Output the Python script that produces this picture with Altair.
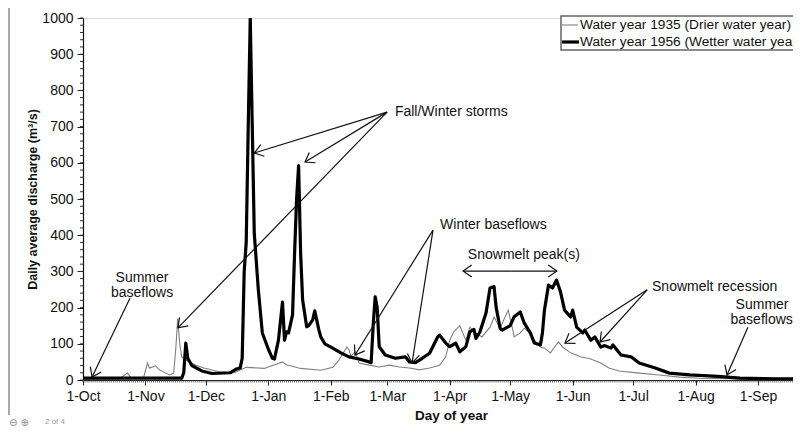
import math
import altair as alt
import pandas as pd

# ---------------- data ----------------
month_days = [0, 31, 61, 92, 123, 151, 182, 212, 243, 273, 304, 335]
month_labels = ["1-Oct", "1-Nov", "1-Dec", "1-Jan", "1-Feb", "1-Mar",
                "1-Apr", "1-May", "1-Jun", "1-Jul", "1-Aug", "1-Sep"]
y_major = [0, 100, 200, 300, 400, 500, 600, 700, 800, 900, 1000]

# Water year 1935 (drier) - day of water year / discharge m3/s
wy1935_day = [0, 18, 22, 24, 30, 32, 33, 36, 38, 41, 43, 45, 46, 47, 48, 49, 51, 56, 60, 68,
              75, 81, 90, 99, 101, 108, 118, 124, 127, 131, 132, 133, 135, 137, 142, 147, 152,
              157, 162, 167, 172, 177, 180, 182, 184, 187, 190, 192, 195, 198, 202, 204, 207,
              211, 213, 214, 217, 219, 222, 224, 227, 229, 232, 234, 236, 238, 242, 247, 252,
              257, 261, 266, 276, 286, 296, 306, 330, 364]
wy1935_q = [3, 3, 19, 5, 5, 47, 33, 39, 28, 19, 14, 19, 83, 170, 100, 64, 55, 41, 33, 22,
            20, 35, 32, 50, 42, 32, 27, 35, 55, 91, 83, 66, 78, 47, 41, 36, 41,
            36, 33, 28, 33, 41, 64, 110, 133, 150, 110, 146, 130, 119, 146, 174, 143,
            193, 146, 119, 130, 143, 130, 110, 91, 88, 75, 91, 105, 91, 75, 64, 58,
            47, 33, 25, 19, 14, 8, 5, 3, 3]

# Water year 1956 (wetter)
wy1956_day = [0, 33, 49, 50, 51, 52, 54, 59, 64, 73, 76, 78, 79, 80, 81, 82, 83, 84, 85, 87,
              89, 92, 94, 95, 97, 99, 100, 101, 102, 104, 105, 106, 107, 108, 109, 111, 112,
              114, 115, 117, 118, 120, 123, 128, 132, 137, 142, 143, 144, 145, 146, 147, 150,
              155, 160, 162, 165, 167, 172, 176, 177, 180, 182, 185, 187, 190, 192, 194, 195,
              197, 200, 202, 204, 205, 207, 208, 212, 214, 217, 219, 222, 224, 227, 228, 229,
              231, 233, 235, 237, 239, 242, 243, 245, 248, 249, 252, 254, 257, 259, 262, 263,
              267, 272, 276, 284, 291, 301, 315, 326, 345, 364]
wy1956_q = [5, 5, 5, 20, 102, 60, 40, 25, 18, 20, 30, 33, 60, 300, 380, 700, 1000, 700, 406, 250,
            130, 85, 60, 58, 110, 215, 110, 133, 130, 180, 350, 500, 592, 350, 221, 147, 150,
            166, 191, 140, 119, 100, 91, 75, 64, 58, 50, 48, 150, 230, 200, 92, 69,
            60, 64, 50, 48, 55, 74, 119, 124, 102, 92, 102, 78, 92, 133, 140, 115,
            133, 185, 254, 258, 202, 143, 138, 150, 175, 188, 157, 130, 102, 97, 130, 193,
            262, 254, 276, 243, 193, 174, 193, 146, 130, 138, 110, 119, 91, 95, 88, 97,
            69, 64, 47, 33, 19, 14, 10, 5, 3, 3]

legend_labels = ["Water year 1935 (Drier water year)", "Water year 1956 (Wetter water year)"]

# annotation texts and anchors (day, discharge)
note_text = ["Summer", "baseflows", "Fall/Winter storms", "Winter baseflows",
             "Snowmelt peak(s)", "Snowmelt recession", "Summer", "baseflows"]
note_day = [29.3, 29.3, 154.8, 177.2, 191.0, 282.4, 337.0, 336.8]
note_q = [282, 240, 740, 428, 345, 257, 207, 166]
note_align = ["center", "center", "left", "left", "left", "left", "center", "center"]

# arrows: start (day, q) -> tip (day, q)
arrow_day0 = [23.3, 150.9, 150.9, 150.9, 173.7, 173.7, 212.0, 212.0, 280.0, 280.0, 330.0]
arrow_q0 = [226, 740, 740, 740, 414, 414, 301, 301, 249, 249, 146]
arrow_day1 = [4.5, 85.0, 110.2, 47.1, 135.0, 163.3, 188.6, 235.2, 239.2, 256.6, 319.6]
arrow_q1 = [8, 627, 602, 144, 69, 47, 301, 301, 102, 105, 14]

# ---------------- layout ----------------
PX_PER_DAY = 2.015
PLOT_W = 710
X_MAX = PLOT_W / PX_PER_DAY
Y_MAX = 1000
PLOT_H = 362
FONT = "Liberation Sans"

px_day = PLOT_W / X_MAX
px_q = PLOT_H / Y_MAX

df35 = pd.DataFrame({"day": wy1935_day, "q": wy1935_q})
df56 = pd.DataFrame({"day": wy1956_day, "q": wy1956_q})
notes = pd.DataFrame({"day": note_day, "q": note_q, "text": note_text, "align": note_align})
angles = []
for d0, q0, d1, q1 in zip(arrow_day0, arrow_q0, arrow_day1, arrow_q1):
    dx = (d1 - d0) * px_day
    up = (q1 - q0) * px_q
    angles.append(math.degrees(math.atan2(dx, up)) % 360)
arrows = pd.DataFrame({"d0": arrow_day0, "q0": arrow_q0, "d1": arrow_day1, "q1": arrow_q1,
                       "ang": angles})

# minor tick positions (axis decoration)
x_minor = pd.DataFrame({"d": list(range(0, int(X_MAX) + 1))})
y_minor = pd.DataFrame({"v": list(range(0, 1001, 20))})

x_scale = alt.Scale(domain=[0, X_MAX], nice=False, zero=False)
y_scale = alt.Scale(domain=[0, Y_MAX], nice=False)

label_expr = f"{month_labels}[indexof({month_days}, datum.value)]"

x_axis = alt.Axis(
    values=month_days, labelExpr=label_expr, labelOverlap=False, labelFlush=False,
    tickSize=5, tickColor="#222", domainColor="#111", domainWidth=1.2, grid=False,
    labelFont=FONT, labelFontSize=14, labelColor="#111", labelPadding=4,
    title="Day of year", titleFont=FONT, titleFontSize=13.5, titleFontWeight="bold",
    titleColor="#111", titlePadding=5, titleX=368,
)
y_axis = alt.Axis(
    values=y_major, format="d", labelOverlap=False, labelFlush=False,
    tickSize=6, tickColor="#222", domainColor="#111", domainWidth=1.2, grid=False,
    labelFont=FONT, labelFontSize=14, labelColor="#111", labelPadding=4,
    title="Daily average discharge (m³/s)", titleFont=FONT, titleFontSize=12.5,
    titleFontWeight="bold", titleColor="#111", titlePadding=2,
)


def X(field):
    return alt.X(field, scale=x_scale, axis=x_axis)


def Y(field):
    return alt.Y(field, scale=y_scale, axis=y_axis)


line35 = alt.Chart(df35).mark_line(color="#808080", strokeWidth=1.1, clip=True).encode(
    x=X("day:Q"), y=Y("q:Q"),
)
line56 = alt.Chart(df56).mark_line(color="#000000", strokeWidth=3.2, clip=True,
                                   strokeJoin="round").encode(
    x=X("day:Q"), y=Y("q:Q"),
)

x_minor_ticks = alt.Chart(x_minor).mark_rule(color="#444", strokeWidth=0.8).encode(
    x=X("d:Q"), y=alt.value(PLOT_H), y2=alt.value(PLOT_H + 2.5),
)
y_minor_ticks = alt.Chart(y_minor).mark_rule(color="#333", strokeWidth=1).encode(
    y=Y("v:Q"), x=alt.value(-3), x2=alt.value(0),
)

arrow_lines = alt.Chart(arrows).mark_rule(color="#111", strokeWidth=1.2).encode(
    x=X("d0:Q"), y=Y("q0:Q"), x2="d1:Q", y2="q1:Q",
)
arrow_heads = alt.Chart(arrows).mark_point(
    shape="M -0.7 1 L 0 0 L 0.7 1", filled=False, color="#111", strokeWidth=1.2,
    size=300, opacity=1,
).encode(
    x=X("d1:Q"), y=Y("q1:Q"), angle=alt.Angle("ang:Q", scale=None),
)

note_layers = []
for al in ["left", "center"]:
    note_layers.append(
        alt.Chart(notes[notes["align"] == al]).mark_text(
            align=al, baseline="middle", font=FONT, fontSize=14, color="#111",
        ).encode(
            x=X("day:Q"), y=Y("q:Q"), text="text:N",
        )
    )

one = pd.DataFrame({"k": [0]})
legend_box = alt.Chart(one).mark_rect(fill="white", stroke="#666", strokeWidth=1.5).encode(
    x=alt.value(478), x2=alt.value(760), y=alt.value(-2), y2=alt.value(32),
)
legend_l1 = alt.Chart(one).mark_rule(color="#808080", strokeWidth=1.1).encode(
    x=alt.value(479), x2=alt.value(495), y=alt.value(7),
)
legend_l2 = alt.Chart(one).mark_rule(color="#000", strokeWidth=3.2).encode(
    x=alt.value(479), x2=alt.value(496), y=alt.value(24),
)
legend_t1 = alt.Chart(one).mark_text(align="left", baseline="middle", font=FONT,
                                     fontSize=13.7, color="#111").encode(
    x=alt.value(497), y=alt.value(7), text=alt.value(legend_labels[0]),
)
legend_t2 = alt.Chart(one).mark_text(align="left", baseline="middle", font=FONT,
                                     fontSize=13.7, color="#111").encode(
    x=alt.value(497), y=alt.value(24), text=alt.value(legend_labels[1]),
)

# page artefacts of the original screenshot (left border and page indicator)
page_border = alt.Chart(one).mark_rule(color="#555", strokeWidth=1).encode(
    x=alt.value(-74), y=alt.value(-18), y2=alt.value(397),
)
page_icons = alt.Chart(one).mark_text(align="left", baseline="middle", font="DejaVu Sans",
                                      fontSize=10, color="#888").encode(
    x=alt.value(-74), y=alt.value(405), text=alt.value("⊖ ⊕"),
)
page_text = alt.Chart(one).mark_text(align="left", baseline="middle", font=FONT,
                                     fontSize=8, color="#999").encode(
    x=alt.value(-38), y=alt.value(404), text=alt.value("2 of 4"),
)

chart = alt.layer(
    line35, line56, x_minor_ticks, y_minor_ticks, arrow_lines, arrow_heads, *note_layers,
    legend_box, legend_l1, legend_l2, legend_t1, legend_t2,
    page_border, page_icons, page_text,
).properties(
    width=PLOT_W, height=PLOT_H,
    autosize=alt.AutoSizeParams(type="none"),
    padding={"left": 75, "top": 10, "right": 0, "bottom": 53},
).configure_view(stroke=None).configure(background="white")

chart.save("out.html", embed_options={"renderer": "svg", "actions": False})
